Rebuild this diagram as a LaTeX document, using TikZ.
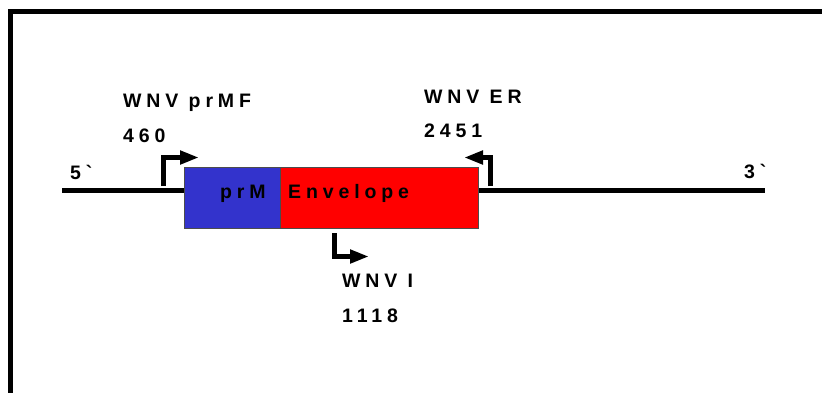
\documentclass[tikz,border=0pt]{standalone}
\usepackage{fontspec}
\usetikzlibrary{arrows.meta}
\newfontfamily\lblfont[LetterSpace=25]{Liberation Sans Bold}
\definecolor{prmblue}{RGB}{51,51,204}
\definecolor{envred}{RGB}{255,0,0}
\tikzset{
  lbl/.style={font=\lblfont\fontsize{19.5}{19.5}\selectfont, inner sep=0pt, anchor=base west},
  gene/.style={draw=black!70, line width=1pt, minimum height=61pt, inner sep=0pt},
  dna/.style={line width=5pt},
  primer/.style={line width=5pt, -{Triangle[length=19pt,width=13pt]}},
}
\begin{document}
\begin{tikzpicture}[x=1pt,y=-1pt]
\useasboundingbox (0,0) rectangle (822,392);
\begin{scope}
\clip (0,0) rectangle (822,392);
\draw[line width=5.5pt] (10.5,400) -- (10.5,11.5) -- (830,11.5);
\end{scope}
% genes
\node[gene, fill=prmblue, minimum width=96pt, anchor=north west] (prm) at (184,167) {};
\node[gene, fill=envred, minimum width=198pt, anchor=north west] (env) at (280,167) {};
% DNA line
\coordinate (L) at (62,190.5);
\coordinate (R) at (765,190.5);
\draw[dna] (L) -- (prm.west |- L);
\draw[dna] (env.east |- R) -- (R);
% gene labels
\node[lbl] (tprm) at (220,198.5) {prM};
\node[lbl] (tenv) at (288,198.5) {Envelope};
% ends
\node[lbl] (five) at (70,179) {5`};
\node[lbl] (three) at (744,178) {3`};
% primers
\coordinate (f0) at (163.5,186);
\coordinate (f1) at (163.5,157.5);
\coordinate (f2) at (199,157.5);
\draw[primer] (f0) -- (f1) -- (f2);
\coordinate (r0) at (490.5,186);
\coordinate (r1) at (490.5,157.5);
\coordinate (r2) at (464,157.5);
\draw[primer] (r0) -- (r1) -- (r2);
\coordinate (i0) at (334,233);
\coordinate (i1) at (334,256.5);
\coordinate (i2) at (369,256.5);
\draw[primer] (i0) -- (i1) -- (i2);
% primer labels
\node[lbl] (pf) at (123,107.5) {WNV prMF};
\node[lbl] (pfn) at (123,142) {460};
\node[lbl] (pr) at (424,103) {WNV ER};
\node[lbl] (prn) at (424,137) {2451};
\node[lbl] (pi) at (342,287) {WNV I};
\node[lbl] (pin) at (342,322) {1118};
\end{tikzpicture}
\end{document}
